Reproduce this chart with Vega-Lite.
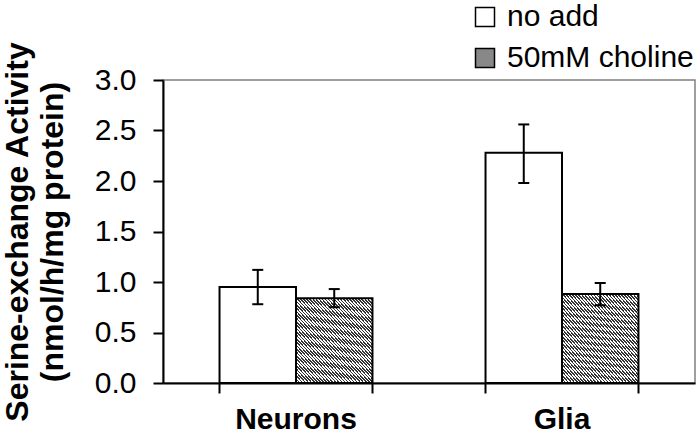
{
  "$schema": "https://vega.github.io/schema/vega-lite/v6.json",
  "width": 532,
  "height": 303,
  "autosize": {"type": "none"},
  "padding": {"left": 163, "top": 80, "right": 5, "bottom": 50},
  "background": "white",
  "config": {
    "view": {"stroke": "#808080", "strokeWidth": 1.5},
    "font": "Liberation Sans",
    "axis": {"grid": false, "domainColor": "black", "domainWidth": 2, "tickColor": "black", "tickWidth": 2, "tickSize": 10, "labelColor": "black", "labelFont": "Liberation Sans", "labelFontSize": 30, "titleFont": "Liberation Sans", "titleColor": "black"}
  },
  "data": {
    "values": [
      {"cell": "Neurons", "treatment": "no add", "mean": 0.95, "lo": 0.78, "hi": 1.12},
      {"cell": "Neurons", "treatment": "50mM choline", "mean": 0.84, "lo": 0.75, "hi": 0.93},
      {"cell": "Glia", "treatment": "no add", "mean": 2.28, "lo": 1.98, "hi": 2.56},
      {"cell": "Glia", "treatment": "50mM choline", "mean": 0.88, "lo": 0.77, "hi": 0.99}
    ]
  },
  "resolve": {"axis": {"x": "independent"}},
  "layer": [
    {
      "mark": {"type": "bar", "stroke": "black", "strokeWidth": 2},
      "encoding": {
        "x": {"field": "cell", "type": "nominal", "sort": ["Neurons", "Glia"], "scale": {"paddingInner": 0.425, "paddingOuter": 0.2125},
          "axis": {"title": null, "orient": "bottom", "bandPosition": 0, "labelAngle": 0, "labelFontWeight": "bold", "labelPadding": 11}},
        "xOffset": {"field": "treatment", "type": "nominal", "sort": ["no add", "50mM choline"]},
        "y": {"field": "mean", "type": "quantitative", "scale": {"domain": [0, 3], "nice": false},
          "title": ["Serine-exchange Activity", "(nmol/h/mg protein)"],
          "axis": {"values": [0, 0.5, 1, 1.5, 2, 2.5, 3], "format": ".1f", "labelPadding": 17, "titleFontSize": 32, "titleFontWeight": "bold", "titlePadding": 25, "titleLineHeight": 35}},
        "fill": {
          "condition": {"test": "datum.treatment === '50mM choline'", "value": {"gradient": "linear", "x1": 0, "y1": 1, "x2": 1, "y2": 0, "stops": [
{"offset":0,"color":"#333"},{"offset":0.01,"color":"#333"},{"offset":0.01,"color":"#fff"},{"offset":0.02,"color":"#fff"},
{"offset":0.02,"color":"#333"},{"offset":0.03,"color":"#333"},{"offset":0.03,"color":"#fff"},{"offset":0.04,"color":"#fff"},
{"offset":0.04,"color":"#333"},{"offset":0.05,"color":"#333"},{"offset":0.05,"color":"#fff"},{"offset":0.06,"color":"#fff"},
{"offset":0.06,"color":"#333"},{"offset":0.07,"color":"#333"},{"offset":0.07,"color":"#fff"},{"offset":0.08,"color":"#fff"},
{"offset":0.08,"color":"#333"},{"offset":0.09,"color":"#333"},{"offset":0.09,"color":"#fff"},{"offset":0.10,"color":"#fff"},
{"offset":0.10,"color":"#333"},{"offset":0.11,"color":"#333"},{"offset":0.11,"color":"#fff"},{"offset":0.12,"color":"#fff"},
{"offset":0.12,"color":"#333"},{"offset":0.13,"color":"#333"},{"offset":0.13,"color":"#fff"},{"offset":0.14,"color":"#fff"},
{"offset":0.14,"color":"#333"},{"offset":0.15,"color":"#333"},{"offset":0.15,"color":"#fff"},{"offset":0.16,"color":"#fff"},
{"offset":0.16,"color":"#333"},{"offset":0.17,"color":"#333"},{"offset":0.17,"color":"#fff"},{"offset":0.18,"color":"#fff"},
{"offset":0.18,"color":"#333"},{"offset":0.19,"color":"#333"},{"offset":0.19,"color":"#fff"},{"offset":0.20,"color":"#fff"},
{"offset":0.20,"color":"#333"},{"offset":0.21,"color":"#333"},{"offset":0.21,"color":"#fff"},{"offset":0.22,"color":"#fff"},
{"offset":0.22,"color":"#333"},{"offset":0.23,"color":"#333"},{"offset":0.23,"color":"#fff"},{"offset":0.24,"color":"#fff"},
{"offset":0.24,"color":"#333"},{"offset":0.25,"color":"#333"},{"offset":0.25,"color":"#fff"},{"offset":0.26,"color":"#fff"},
{"offset":0.26,"color":"#333"},{"offset":0.27,"color":"#333"},{"offset":0.27,"color":"#fff"},{"offset":0.28,"color":"#fff"},
{"offset":0.28,"color":"#333"},{"offset":0.29,"color":"#333"},{"offset":0.29,"color":"#fff"},{"offset":0.30,"color":"#fff"},
{"offset":0.30,"color":"#333"},{"offset":0.31,"color":"#333"},{"offset":0.31,"color":"#fff"},{"offset":0.32,"color":"#fff"},
{"offset":0.32,"color":"#333"},{"offset":0.33,"color":"#333"},{"offset":0.33,"color":"#fff"},{"offset":0.34,"color":"#fff"},
{"offset":0.34,"color":"#333"},{"offset":0.35,"color":"#333"},{"offset":0.35,"color":"#fff"},{"offset":0.36,"color":"#fff"},
{"offset":0.36,"color":"#333"},{"offset":0.37,"color":"#333"},{"offset":0.37,"color":"#fff"},{"offset":0.38,"color":"#fff"},
{"offset":0.38,"color":"#333"},{"offset":0.39,"color":"#333"},{"offset":0.39,"color":"#fff"},{"offset":0.40,"color":"#fff"},
{"offset":0.40,"color":"#333"},{"offset":0.41,"color":"#333"},{"offset":0.41,"color":"#fff"},{"offset":0.42,"color":"#fff"},
{"offset":0.42,"color":"#333"},{"offset":0.43,"color":"#333"},{"offset":0.43,"color":"#fff"},{"offset":0.44,"color":"#fff"},
{"offset":0.44,"color":"#333"},{"offset":0.45,"color":"#333"},{"offset":0.45,"color":"#fff"},{"offset":0.46,"color":"#fff"},
{"offset":0.46,"color":"#333"},{"offset":0.47,"color":"#333"},{"offset":0.47,"color":"#fff"},{"offset":0.48,"color":"#fff"},
{"offset":0.48,"color":"#333"},{"offset":0.49,"color":"#333"},{"offset":0.49,"color":"#fff"},{"offset":0.50,"color":"#fff"},
{"offset":0.50,"color":"#333"},{"offset":0.51,"color":"#333"},{"offset":0.51,"color":"#fff"},{"offset":0.52,"color":"#fff"},
{"offset":0.52,"color":"#333"},{"offset":0.53,"color":"#333"},{"offset":0.53,"color":"#fff"},{"offset":0.54,"color":"#fff"},
{"offset":0.54,"color":"#333"},{"offset":0.55,"color":"#333"},{"offset":0.55,"color":"#fff"},{"offset":0.56,"color":"#fff"},
{"offset":0.56,"color":"#333"},{"offset":0.57,"color":"#333"},{"offset":0.57,"color":"#fff"},{"offset":0.58,"color":"#fff"},
{"offset":0.58,"color":"#333"},{"offset":0.59,"color":"#333"},{"offset":0.59,"color":"#fff"},{"offset":0.60,"color":"#fff"},
{"offset":0.60,"color":"#333"},{"offset":0.61,"color":"#333"},{"offset":0.61,"color":"#fff"},{"offset":0.62,"color":"#fff"},
{"offset":0.62,"color":"#333"},{"offset":0.63,"color":"#333"},{"offset":0.63,"color":"#fff"},{"offset":0.64,"color":"#fff"},
{"offset":0.64,"color":"#333"},{"offset":0.65,"color":"#333"},{"offset":0.65,"color":"#fff"},{"offset":0.66,"color":"#fff"},
{"offset":0.66,"color":"#333"},{"offset":0.67,"color":"#333"},{"offset":0.67,"color":"#fff"},{"offset":0.68,"color":"#fff"},
{"offset":0.68,"color":"#333"},{"offset":0.69,"color":"#333"},{"offset":0.69,"color":"#fff"},{"offset":0.70,"color":"#fff"},
{"offset":0.70,"color":"#333"},{"offset":0.71,"color":"#333"},{"offset":0.71,"color":"#fff"},{"offset":0.72,"color":"#fff"},
{"offset":0.72,"color":"#333"},{"offset":0.73,"color":"#333"},{"offset":0.73,"color":"#fff"},{"offset":0.74,"color":"#fff"},
{"offset":0.74,"color":"#333"},{"offset":0.75,"color":"#333"},{"offset":0.75,"color":"#fff"},{"offset":0.76,"color":"#fff"},
{"offset":0.76,"color":"#333"},{"offset":0.77,"color":"#333"},{"offset":0.77,"color":"#fff"},{"offset":0.78,"color":"#fff"},
{"offset":0.78,"color":"#333"},{"offset":0.79,"color":"#333"},{"offset":0.79,"color":"#fff"},{"offset":0.80,"color":"#fff"},
{"offset":0.80,"color":"#333"},{"offset":0.81,"color":"#333"},{"offset":0.81,"color":"#fff"},{"offset":0.82,"color":"#fff"},
{"offset":0.82,"color":"#333"},{"offset":0.83,"color":"#333"},{"offset":0.83,"color":"#fff"},{"offset":0.84,"color":"#fff"},
{"offset":0.84,"color":"#333"},{"offset":0.85,"color":"#333"},{"offset":0.85,"color":"#fff"},{"offset":0.86,"color":"#fff"},
{"offset":0.86,"color":"#333"},{"offset":0.87,"color":"#333"},{"offset":0.87,"color":"#fff"},{"offset":0.88,"color":"#fff"},
{"offset":0.88,"color":"#333"},{"offset":0.89,"color":"#333"},{"offset":0.89,"color":"#fff"},{"offset":0.90,"color":"#fff"},
{"offset":0.90,"color":"#333"},{"offset":0.91,"color":"#333"},{"offset":0.91,"color":"#fff"},{"offset":0.92,"color":"#fff"},
{"offset":0.92,"color":"#333"},{"offset":0.93,"color":"#333"},{"offset":0.93,"color":"#fff"},{"offset":0.94,"color":"#fff"},
{"offset":0.94,"color":"#333"},{"offset":0.95,"color":"#333"},{"offset":0.95,"color":"#fff"},{"offset":0.96,"color":"#fff"},
{"offset":0.96,"color":"#333"},{"offset":0.97,"color":"#333"},{"offset":0.97,"color":"#fff"},{"offset":0.98,"color":"#fff"},
{"offset":0.98,"color":"#333"},{"offset":0.99,"color":"#333"},{"offset":0.99,"color":"#fff"},{"offset":1,"color":"#fff"}
          ]}},
          "field": "treatment", "type": "nominal",
          "scale": {"domain": ["no add", "50mM choline"], "range": ["white", "#888888"]},
          "legend": {"title": null, "orient": "none", "legendX": 307, "legendY": -78, "padding": 0, "symbolType": "square", "symbolSize": 361, "symbolOpacity": 1, "labelFont": "Liberation Sans", "labelFontSize": 30, "labelColor": "black", "labelOffset": 7, "labelLimit": 400, "rowPadding": 11,
            "encode": {"symbols": {
              "stroke": {"value": "black"},
              "strokeWidth": {"value": 1.5}
            }}}}
      }
    },
    {
      "mark": {"type": "rule", "stroke": "black", "strokeWidth": 2},
      "encoding": {
        "x": {"field": "cell", "type": "nominal", "sort": ["Neurons", "Glia"],
          "axis": {"title": null, "orient": "bottom", "bandPosition": 1, "labels": false, "domain": false, "ticks": true}},
        "xOffset": {"field": "treatment", "type": "nominal", "sort": ["no add", "50mM choline"]},
        "y": {"field": "lo", "type": "quantitative", "title": ["Serine-exchange Activity", "(nmol/h/mg protein)"]},
        "y2": {"field": "hi"}
      }
    },
    {
      "mark": {"type": "tick", "color": "black", "thickness": 2, "size": 11, "opacity": 1},
      "encoding": {
        "x": {"field": "cell", "type": "nominal", "sort": ["Neurons", "Glia"], "axis": null},
        "xOffset": {"field": "treatment", "type": "nominal", "sort": ["no add", "50mM choline"]},
        "y": {"field": "lo", "type": "quantitative", "title": ["Serine-exchange Activity", "(nmol/h/mg protein)"]}
      }
    },
    {
      "mark": {"type": "tick", "color": "black", "thickness": 2, "size": 11, "opacity": 1},
      "encoding": {
        "x": {"field": "cell", "type": "nominal", "sort": ["Neurons", "Glia"], "axis": null},
        "xOffset": {"field": "treatment", "type": "nominal", "sort": ["no add", "50mM choline"]},
        "y": {"field": "hi", "type": "quantitative", "title": ["Serine-exchange Activity", "(nmol/h/mg protein)"]}
      }
    }
  ]
}
